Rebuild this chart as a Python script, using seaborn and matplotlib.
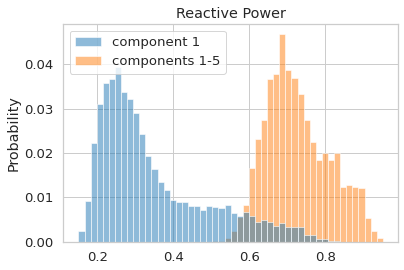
import numpy as np
import pandas as pd
import matplotlib
matplotlib.use("Agg")
import matplotlib.pyplot as plt
import seaborn as sns

# Histogram bin range (50 common bins)
bin_min = 0.15
bin_max = 0.952
n_bins = 50

# Probability per bin
component_1 = [
    0.0023, 0.0092, 0.0223, 0.0311, 0.0357, 0.0366, 0.0394, 0.0337, 0.0321, 0.0291,
    0.0243, 0.0194, 0.0163, 0.0135, 0.0116, 0.0093, 0.0089, 0.0089, 0.0080, 0.0080,
    0.0071, 0.0080, 0.0079, 0.0075, 0.0083, 0.0064, 0.0058, 0.0066, 0.0057, 0.0044,
    0.0048, 0.0044, 0.0036, 0.0042, 0.0032, 0.0032, 0.0034, 0.0016, 0.0014, 0.0005,
    0.0005, 0.0002, 0.0001, 0.0, 0.0, 0.0, 0.0, 0.0, 0.0, 0.0,
]
components_1_5 = [
    0.0, 0.0, 0.0, 0.0, 0.0, 0.0, 0.0, 0.0, 0.0, 0.0,
    0.0, 0.0, 0.0, 0.0, 0.0, 0.0, 0.0, 0.0, 0.0, 0.0,
    0.0, 0.0, 0.0002, 0.0002, 0.0009, 0.0023, 0.0055, 0.0083, 0.0165, 0.0232,
    0.0275, 0.0366, 0.0377, 0.0467, 0.0386, 0.0368, 0.0332, 0.0273, 0.0224, 0.0183,
    0.0199, 0.0184, 0.0199, 0.0124, 0.0128, 0.0124, 0.0122, 0.0053, 0.0025, 0.0008,
]
labels = ["component 1", "components 1-5"]

sns.set_theme(style="whitegrid", font_scale=1.2)

edges = np.linspace(bin_min, bin_max, n_bins + 1)
centers = (edges[:-1] + edges[1:]) / 2

fig, ax = plt.subplots(figsize=(404 / 72, 270 / 72), dpi=72)
palette = sns.color_palette("tab10")
series = [component_1, components_1_5]
# draw the later series first so the first one lies on top (as seaborn's hue layering does)
for vals, lab, col in reversed(list(zip(series, labels, palette[:2]))):
    df = pd.DataFrame({"value": centers, "prob": vals})
    sns.histplot(data=df, x="value", weights="prob", bins=n_bins,
                 binrange=(bin_min, bin_max), stat="count",
                 color=col, alpha=0.5, label=lab, ax=ax)

ax.set_title("Reactive Power")
ax.set_ylabel("Probability")
ax.set_xlabel("")
handles, labs = ax.get_legend_handles_labels()
ax.legend(handles[::-1], labs[::-1], loc="upper left")

fig.subplots_adjust(left=63.2 / 404, right=398 / 404, top=1 - 24 / 270, bottom=1 - 241.7 / 270)
fig.savefig("out.png", dpi=72)
